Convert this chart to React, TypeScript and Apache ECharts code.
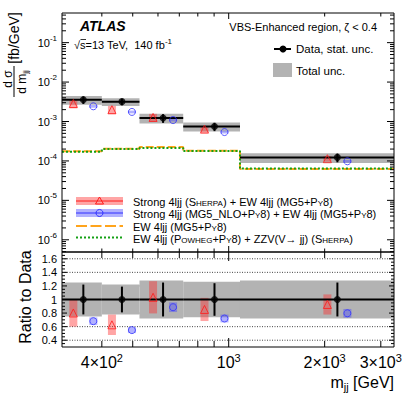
import React, { useEffect, useRef } from "react";
import * as echarts from "echarts";

const FONT = "'Liberation Sans', Arial, Helvetica, sans-serif";

// ---- data ----
const binEdges = [300, 400, 525, 720, 1085, 3300];
const dataXsec = [3.57e-3, 3.19e-3, 1.23e-3, 7.5e-4, 1.23e-4];
const dataStatRel = [0.22, 0.19, 0.25, 0.24, 0.25];
const totalUncRel = [0.25, 0.22, 0.28, 0.26, 0.28];
const sherpaXsec = [2.86e-3, 2.0e-3, 1.27e-3, 6.4e-4, 1.14e-4];
const sherpaUncRel = [0.25, 0.24, 0.23, 0.2, 0.16];
const mg5NloXsec = [2.43e-3, 1.75e-3, 1.09e-3, 5.4e-4, 9.8e-5];
const mg5NloUncRel = [0.08, 0.08, 0.08, 0.08, 0.08];
const ewMg5Xsec = [1.75e-4, 2.05e-4, 2.25e-4, 1.8e-4, 6.2e-5];
const ewPowhegXsec = [1.72e-4, 2.0e-4, 2.12e-4, 1.78e-4, 6.4e-5];

// ---- ticks / labels ----
const xTickValues = [400, 500, 600, 700, 800, 900, 1000, 2000, 3000];
const xMajorTickValues = [1000];
const xLabelValues = [400, 1000, 2000, 3000];
const xLabelMantissas = ["4×", "", "2×", "3×"];
const xLabelExponents = ["2", "3", "3", "3"];
const ratioGridValues = [0.4, 0.6, 0.8, 1.0, 1.2, 1.4, 1.6];

const legendLabels = [
  "Strong 4ljj (S<HERPA>) + EW 4ljj (MG5+P<Y>8)",
  "Strong 4ljj (MG5_NLO+P<Y>8) + EW 4ljj (MG5+P<Y>8)",
  "EW 4ljj (MG5+P<Y>8)",
  "EW 4ljj (P<OWHEG>+P<Y>8) + ZZV(V→ jj) (S<HERPA>)",
];

const X_MIN = 300;
const X_MAX = 3300;
const Y_MIN = 4.9e-7;
const Y_MAX = 0.565;
const R_MIN = 0.3;
const R_MAX = 1.7;

const GRAY = "#b3b3b3";
const RED = "#ff1a1a";
const RED_BAND = "rgba(255,40,40,0.42)";
const BLUE = "#3030ff";
const BLUE_BAND = "rgba(70,70,255,0.42)";
const ORANGE = "#ffa41c";
const GREEN = "#14a014";

function toRich(s: string): string {
  const parts: string[] = [];
  const re = /<([^>]*)>/g;
  let last = 0;
  let m: RegExpExecArray | null;
  while ((m = re.exec(s))) {
    if (m.index > last) parts.push(`{n|${s.slice(last, m.index)}}`);
    parts.push(`{sc|${m[1]}}`);
    last = m.index + m[0].length;
  }
  if (last < s.length) parts.push(`{n|${s.slice(last)}}`);
  return parts.join("");
}

function buildOption(): any {
  const idx = dataXsec.map((_, i) => i);
  const lo = idx.map((i) => binEdges[i]);
  const hi = idx.map((i) => binEdges[i + 1]);
  const ctr = idx.map((i) => (lo[i] + hi[i]) / 2);
  const last = idx.length - 1;

  const stepData = (vals: number[]) => [
    ...idx.map((i) => [lo[i], vals[i]]),
    [hi[last], vals[last]],
  ];

  const wideBand = (fill: string) => (_p: any, api: any) => {
    const a = api.coord([api.value(0), api.value(2) * (1 + api.value(3))]);
    const b = api.coord([api.value(1), api.value(2) * (1 - api.value(3))]);
    return {
      type: "rect",
      shape: { x: a[0], y: a[1], width: b[0] - a[0], height: b[1] - a[1] },
      style: { fill },
    };
  };

  const narrowBand = (offset: number, fill: string) => (_p: any, api: any) => {
    const x = api.value(0);
    const v = api.value(1);
    const r = api.value(2);
    const t = api.coord([x, v * (1 + r)]);
    const b = api.coord([x, v * (1 - r)]);
    return {
      type: "rect",
      shape: { x: t[0] + offset - 4, y: t[1], width: 8, height: b[1] - t[1] },
      style: { fill },
    };
  };

  const dataBars = (_p: any, api: any) => {
    const l = api.value(0);
    const h = api.value(1);
    const c = api.value(2);
    const v = api.value(3);
    const r = api.value(4);
    const a = api.coord([l, v]);
    const b = api.coord([h, v]);
    const t = api.coord([c, v * (1 + r)]);
    const d = api.coord([c, v * (1 - r)]);
    return {
      type: "group",
      children: [
        { type: "line", shape: { x1: a[0], y1: a[1], x2: b[0], y2: b[1] }, style: { stroke: "#000", lineWidth: 2 } },
        { type: "line", shape: { x1: t[0], y1: t[1], x2: d[0], y2: d[1] }, style: { stroke: "#000", lineWidth: 2 } },
      ],
    };
  };

  const xTicks = (yLo: number, yHi: number, majLen: number, minLen: number) => (_p: any, api: any) => {
    const x = api.value(0);
    const len = api.value(2) === 1 ? majLen : minLen;
    const b = api.coord([x, yLo]);
    const t = api.coord([x, yHi]);
    return {
      type: "group",
      children: [
        { type: "line", shape: { x1: b[0], y1: b[1], x2: b[0], y2: b[1] - len }, style: { stroke: "#000", lineWidth: 1 } },
        { type: "line", shape: { x1: t[0], y1: t[1], x2: t[0], y2: t[1] + len }, style: { stroke: "#000", lineWidth: 1 } },
      ],
    };
  };

  const yTicks = (majLen: number, minLen: number) => (_p: any, api: any) => {
    const v = api.value(1);
    const len = api.value(2) === 1 ? majLen : minLen;
    const l = api.coord([X_MIN, v]);
    const r = api.coord([X_MAX, v]);
    return {
      type: "group",
      children: [
        { type: "line", shape: { x1: l[0], y1: l[1], x2: l[0] + len, y2: l[1] }, style: { stroke: "#000", lineWidth: 1 } },
        { type: "line", shape: { x1: r[0], y1: r[1], x2: r[0] - len, y2: r[1] }, style: { stroke: "#000", lineWidth: 1 } },
      ],
    };
  };

  const frame = (yLo: number, yHi: number) => (_p: any, api: any) => {
    const a = api.coord([X_MIN, yHi]);
    const b = api.coord([X_MAX, yLo]);
    return {
      type: "rect",
      shape: { x: a[0], y: a[1], width: b[0] - a[0], height: b[1] - a[1] },
      style: { fill: "none", stroke: "#000", lineWidth: 1 },
    };
  };

  // log minor ticks for upper y axis
  const logTicks: number[][] = [];
  for (let e = -7; e <= 0; e++) {
    for (let m = 1; m <= 9; m++) {
      const v = m * Math.pow(10, e);
      if (v > Y_MIN && v < Y_MAX) logTicks.push([X_MIN, v, m === 1 ? 1 : 0]);
    }
  }
  const ratioTicks: number[][] = [];
  for (let k = 7; k <= 33; k++) ratioTicks.push([X_MIN, k * 0.05, k % 4 === 0 ? 1 : 0]);

  const xTickData0 = xTickValues.map((v) => [v, Y_MIN, xMajorTickValues.includes(v) ? 1 : 0]);
  const xTickData1 = xTickValues.map((v) => [v, R_MIN, xMajorTickValues.includes(v) ? 1 : 0]);

  const upper = { xAxisIndex: 0, yAxisIndex: 0 };
  const lower = { xAxisIndex: 1, yAxisIndex: 1 };

  const supRich = (main: number, sup: number, pad: number) => ({
    b: { fontSize: main, lineHeight: main, fontFamily: FONT, color: "#000", fill: "#000", verticalAlign: "bottom" },
    s: { fontSize: sup, lineHeight: sup, fontFamily: FONT, color: "#000", fill: "#000", verticalAlign: "bottom", padding: [0, 0, pad, 0] },
  });

  const hiddenX = (gridIndex: number) => ({
    type: "log",
    logBase: 10,
    gridIndex,
    min: X_MIN,
    max: X_MAX,
    axisLine: { show: false },
    axisTick: { show: false },
    axisLabel: { show: false },
    splitLine: { show: false },
    minorTick: { show: false },
  });

  const series: any[] = [
    // ---------------- upper panel ----------------
    {
      type: "custom", ...upper, z: 1, renderItem: wideBand(GRAY),
      data: idx.map((i) => [lo[i], hi[i], dataXsec[i], totalUncRel[i]]),
      encode: { x: [0, 1], y: 2 },
    },
    {
      type: "line", ...upper, z: 2, step: "end", symbol: "none", data: stepData(ewMg5Xsec),
      lineStyle: { color: ORANGE, width: 2, type: [8, 3] },
    },
    {
      type: "line", ...upper, z: 3, step: "end", symbol: "none", data: stepData(ewPowhegXsec),
      lineStyle: { color: GREEN, width: 2, type: [2, 2] },
    },
    {
      type: "custom", ...upper, z: 4, renderItem: narrowBand(-10, RED_BAND),
      data: idx.map((i) => [ctr[i], sherpaXsec[i], sherpaUncRel[i]]),
    },
    {
      type: "custom", ...upper, z: 4, renderItem: narrowBand(10, BLUE_BAND),
      data: idx.map((i) => [ctr[i], mg5NloXsec[i], mg5NloUncRel[i]]),
    },
    {
      type: "custom", ...upper, z: 5, renderItem: dataBars,
      data: idx.map((i) => [lo[i], hi[i], ctr[i], dataXsec[i], dataStatRel[i]]),
      encode: { x: [0, 1, 2], y: 3 },
    },
    {
      type: "scatter", ...upper, z: 6, symbol: "triangle", symbolSize: 8, symbolOffset: [-10, 0],
      itemStyle: { color: "rgba(0,0,0,0)", borderColor: RED, borderWidth: 1 },
      data: idx.map((i) => [ctr[i], sherpaXsec[i]]),
    },
    {
      type: "scatter", ...upper, z: 6, symbol: "circle", symbolSize: 7, symbolOffset: [10, 0],
      itemStyle: { color: "rgba(0,0,0,0)", borderColor: BLUE, borderWidth: 1 },
      data: idx.map((i) => [ctr[i], mg5NloXsec[i]]),
    },
    {
      type: "scatter", ...upper, z: 7, symbol: "circle", symbolSize: 7,
      itemStyle: { color: "#000" },
      data: idx.map((i) => [ctr[i], dataXsec[i]]),
    },
    { type: "custom", ...upper, z: 20, renderItem: xTicks(Y_MIN, Y_MAX, 6, 3.5), data: xTickData0, encode: { x: 0, y: 1 } },
    { type: "custom", ...upper, z: 20, renderItem: yTicks(7, 4), data: logTicks, encode: { x: 0, y: 1 } },
    { type: "custom", ...upper, z: 21, renderItem: frame(Y_MIN, Y_MAX), data: [[X_MIN, Y_MIN]] },

    // ---------------- ratio panel ----------------
    {
      type: "custom", ...lower, z: 0,
      renderItem: (_p: any, api: any) => {
        const v = api.value(1);
        const a = api.coord([X_MIN, v]);
        const b = api.coord([X_MAX, v]);
        return {
          type: "line", shape: { x1: a[0], y1: a[1], x2: b[0], y2: b[1] },
          style: { stroke: "#444", lineWidth: 1, lineDash: [1, 1.5] },
        };
      },
      data: ratioGridValues.map((v) => [X_MIN, v]), encode: { x: 0, y: 1 },
    },
    {
      type: "custom", ...lower, z: 1, renderItem: wideBand(GRAY),
      data: idx.map((i) => [lo[i], hi[i], 1, totalUncRel[i]]),
      encode: { x: [0, 1], y: 2 },
    },
    {
      type: "custom", ...lower, z: 4, renderItem: narrowBand(-10, RED_BAND),
      data: idx.map((i) => [ctr[i], sherpaXsec[i] / dataXsec[i], sherpaUncRel[i]]),
    },
    {
      type: "custom", ...lower, z: 4, renderItem: narrowBand(10, BLUE_BAND),
      data: idx.map((i) => [ctr[i], mg5NloXsec[i] / dataXsec[i], mg5NloUncRel[i]]),
    },
    {
      type: "custom", ...lower, z: 5, renderItem: dataBars,
      data: idx.map((i) => [lo[i], hi[i], ctr[i], 1, dataStatRel[i]]),
      encode: { x: [0, 1, 2], y: 3 },
    },
    {
      type: "scatter", ...lower, z: 6, symbol: "triangle", symbolSize: 8, symbolOffset: [-10, 0],
      itemStyle: { color: "rgba(0,0,0,0)", borderColor: RED, borderWidth: 1 },
      data: idx.map((i) => [ctr[i], sherpaXsec[i] / dataXsec[i]]),
    },
    {
      type: "scatter", ...lower, z: 6, symbol: "circle", symbolSize: 7, symbolOffset: [10, 0],
      itemStyle: { color: "rgba(0,0,0,0)", borderColor: BLUE, borderWidth: 1 },
      data: idx.map((i) => [ctr[i], mg5NloXsec[i] / dataXsec[i]]),
    },
    {
      type: "scatter", ...lower, z: 7, symbol: "circle", symbolSize: 7,
      itemStyle: { color: "#000" },
      data: idx.map((i) => [ctr[i], 1]),
    },
    { type: "custom", ...lower, z: 20, renderItem: xTicks(R_MIN, R_MAX, 9, 6), data: xTickData1, encode: { x: 0, y: 1 } },
    { type: "custom", ...lower, z: 20, renderItem: yTicks(5, 3), data: ratioTicks, encode: { x: 0, y: 1 } },
    { type: "custom", ...lower, z: 21, renderItem: frame(R_MIN, R_MAX), data: [[X_MIN, R_MIN]] },
    {
      type: "custom", ...lower, z: 22,
      renderItem: (_p: any, api: any) => {
        const i = api.value(2);
        const p = api.coord([api.value(0), R_MIN]);
        return {
          type: "text", x: p[0], y: p[1] + 7.5,
          style: {
            text: `{b|${xLabelMantissas[i]}10}{s|${xLabelExponents[i]}}`,
            align: "center", verticalAlign: "top",
            rich: supRich(16, 11, 7),
          },
        };
      },
      data: xLabelValues.map((v, i) => [v, R_MIN, i]), encode: { x: 0, y: 1 },
    },
  ];

  const t = (x: number, y: number, text: string, style: any, extra: any = {}) => ({
    type: "text", x, y, z: 100, ...extra,
    style: { text, fill: "#000", fontFamily: FONT, verticalAlign: "middle", ...style },
  });

  const scRich = {
    n: { fontSize: 11, lineHeight: 13, fontFamily: FONT, fill: "#000", verticalAlign: "bottom" },
    sc: { fontSize: 8, lineHeight: 11, fontFamily: FONT, fill: "#000", verticalAlign: "bottom", padding: [2, 0, 0, 0] },
  };
  const subRich = (main: number, sub: number, pad: number) => ({
    n: { fontSize: main, lineHeight: main, fontFamily: FONT, fill: "#000", verticalAlign: "top" },
    sub: { fontSize: sub, lineHeight: sub, fontFamily: FONT, fill: "#000", verticalAlign: "top", padding: [pad, 0, 0, 0] },
  });

  const legY = [201, 213, 226, 237.5];
  const graphic: any[] = [
    t(80, 25.7, "ATLAS", { fontSize: 14, fontWeight: "bold", fontStyle: "italic" }),
    t(74, 45, "{b|√s=13 TeV,  140 fb}{s|-1}", { rich: supRich(11, 8, 5) }),
    { type: "line", z: 100, shape: { x1: 80.5, y1: 39.5, x2: 86, y2: 39.5 }, style: { stroke: "#000", lineWidth: 0.8 } },
    t(377, 27, "VBS-Enhanced region, ζ < 0.4", { fontSize: 11, align: "right" }),
    { type: "line", z: 100, shape: { x1: 274, y1: 49, x2: 291, y2: 49 }, style: { stroke: "#000", lineWidth: 2 } },
    { type: "circle", z: 101, shape: { cx: 283, cy: 49, r: 3.5 }, style: { fill: "#000" } },
    t(296, 49, "Data, stat. unc.", { fontSize: 11.5 }),
    { type: "rect", z: 100, shape: { x: 273, y: 63, width: 19, height: 14 }, style: { fill: GRAY } },
    t(296, 71, "Total unc.", { fontSize: 11.5 }),

    // bottom-left legend
    { type: "rect", z: 100, shape: { x: 76, y: legY[0] - 4, width: 47, height: 8 }, style: { fill: RED_BAND } },
    { type: "line", z: 100, shape: { x1: 76, y1: legY[0], x2: 123, y2: legY[0] }, style: { stroke: RED, lineWidth: 1 } },
    { type: "polygon", z: 101, shape: { points: [[99.5, legY[0] - 4], [95.5, legY[0] + 3], [103.5, legY[0] + 3]] }, style: { fill: "none", stroke: RED, lineWidth: 1 } },
    { type: "rect", z: 100, shape: { x: 76, y: legY[1] - 4, width: 47, height: 8 }, style: { fill: BLUE_BAND } },
    { type: "line", z: 100, shape: { x1: 76, y1: legY[1], x2: 123, y2: legY[1] }, style: { stroke: BLUE, lineWidth: 1 } },
    { type: "circle", z: 101, shape: { cx: 99.5, cy: legY[1], r: 3.5 }, style: { fill: "none", stroke: BLUE, lineWidth: 1 } },
    { type: "line", z: 100, shape: { x1: 76, y1: legY[2], x2: 123, y2: legY[2] }, style: { stroke: ORANGE, lineWidth: 2, lineDash: [11, 3.5] } },
    { type: "line", z: 100, shape: { x1: 76, y1: legY[3], x2: 123, y2: legY[3] }, style: { stroke: GREEN, lineWidth: 2, lineDash: [2, 2] } },
    ...legendLabels.map((s, i) => t(133, legY[i], toRich(s), { rich: scRich })),

    // axis titles
    t(14, 38, "[fb/GeV]", { fontSize: 14, align: "center" }, { rotation: Math.PI / 2 }),
    t(7.5, 79, "d σ", { fontSize: 12, align: "center" }, { rotation: Math.PI / 2 }),
    { type: "line", z: 100, shape: { x1: 14, y1: 66, x2: 14, y2: 97 }, style: { stroke: "#000", lineWidth: 1 } },
    t(21.5, 82, "{n|d m}{sub|jj}", { align: "center", rich: subRich(12, 8, 6) }, { rotation: Math.PI / 2 }),
    t(25, 297, "Ratio to Data", { fontSize: 16, align: "center" }, { rotation: Math.PI / 2 }),
    t(394, 382, "{n|m}{sub|jj}{n| [GeV]}", { align: "right", rich: subRich(16, 11, 7) }),
  ];

  return {
    animation: false,
    backgroundColor: "#fff",
    grid: [
      { left: 62, top: 13, width: 332, height: 239 },
      { left: 62, top: 252, width: 332, height: 95 },
    ],
    xAxis: [hiddenX(0), hiddenX(1)],
    yAxis: [
      {
        type: "log", logBase: 10, gridIndex: 0, min: Y_MIN, max: Y_MAX,
        axisLine: { show: false }, axisTick: { show: false }, splitLine: { show: false },
        axisLabel: {
          showMinLabel: false, showMaxLabel: false, margin: 5,
          formatter: (v: number) => `{b|10}{s|${Math.round(Math.log10(v))}}`,
          rich: supRich(11, 8, 6),
        },
      },
      {
        type: "value", gridIndex: 1, min: R_MIN, max: R_MAX, splitNumber: 7,
        axisLine: { show: false }, axisTick: { show: false }, splitLine: { show: false },
        axisLabel: {
          showMinLabel: false, showMaxLabel: false, margin: 5,
          fontSize: 11, fontFamily: FONT, color: "#000",
          formatter: (v: number) => String(parseFloat(v.toFixed(2))),
        },
      },
    ],
    series,
    graphic,
  };
}

export default function App() {
  const ref = useRef<HTMLDivElement>(null);
  useEffect(() => {
    if (!ref.current) return;
    const chart = echarts.init(ref.current, null, { renderer: "svg" });
    chart.setOption(buildOption());
    return () => chart.dispose();
  }, []);
  return (
    <div
      ref={ref}
      style={{ position: "fixed", left: 0, top: 0, width: 415, height: 407, background: "#fff" }}
    />
  );
}
